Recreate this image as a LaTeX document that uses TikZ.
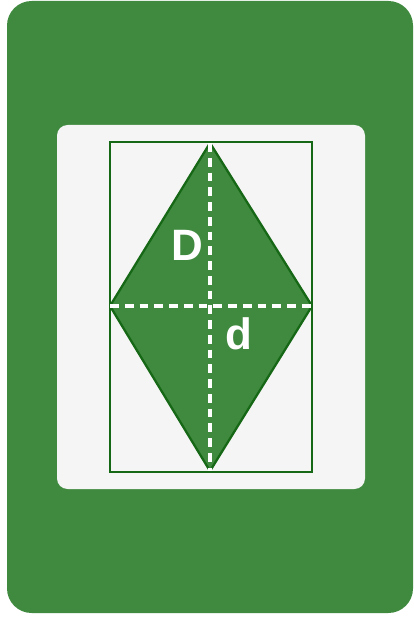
\documentclass[tikz,border=0pt]{standalone}
\usepackage{fontspec}
\setmainfont{Liberation Sans}
\definecolor{cardgreen}{RGB}{64,138,64}
\definecolor{edgegreen}{RGB}{22,104,22}
\definecolor{panelgray}{RGB}{245,245,245}

\begin{document}
\begin{tikzpicture}[x=0.02cm, y=-0.02cm,
    diag/.style={white, line width=1.8pt, dash pattern=on 5pt off 3.4pt},
    lbl/.style={text=white, font=\fontsize{25}{30}\selectfont\bfseries, inner sep=0pt}]
  \useasboundingbox (0,0) rectangle (413,617);
  \fill[cardgreen, rounded corners=14pt] (7,1) rectangle (413,613);
  \fill[panelgray, rounded corners=6pt] (57,125) rectangle (365,489);

  \draw[edgegreen, line width=1.6pt] (110,142) rectangle (312,472);

  \coordinate (top) at (210,143);
  \coordinate (right) at (312,306);
  \coordinate (bottom) at (210,471);
  \coordinate (left) at (110,306);
  \filldraw[fill=cardgreen, draw=edgegreen, line width=1.3pt, line join=round]
    (top) -- (right) -- (bottom) -- (left) -- cycle;

  \draw[diag] (top) -- (bottom);
  \draw[diag] (left) -- (right);

  \node[lbl] (D) at (187,245) {D};
  \node[lbl] (d) at (239,334) {d};
\end{tikzpicture}
\end{document}
